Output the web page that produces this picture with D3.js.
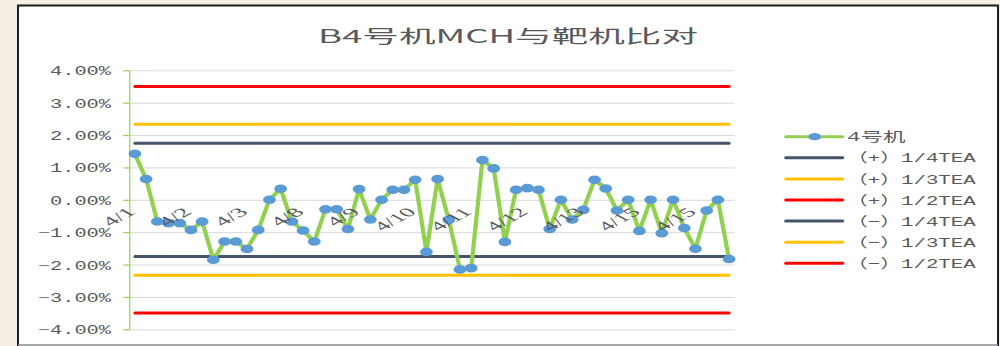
<!DOCTYPE html>
<html>
<head>
<meta charset="utf-8">
<script src="https://cdn.jsdelivr.net/npm/d3@7"></script>
<style>
  html, body { margin: 0; padding: 0; background: #f4eee4; }
  svg { display: block; }
</style>
</head>
<body>
<svg id="chart" width="1000" height="346"></svg>
<script>
// ---- data -------------------------------------------------------------
const titleText = "B4号机MCH与靶机比对";

// deviation of machine 4 against the reference machine, in percent
const values = [
  1.42, 0.64, -0.67, -0.72, -0.72, -0.93, -0.67, -1.85, -1.29, -1.29,
  -1.52, -0.93, 0.00, 0.34, -0.67, -0.95, -1.29, -0.29, -0.29, -0.90,
  0.33, -0.61, 0.00, 0.31, 0.31, 0.62, -1.61, 0.64, -0.62, -2.15,
  -2.11, 1.23, 0.97, -1.30, 0.31, 0.36, 0.31, -0.90, 0.00, -0.61,
  -0.31, 0.62, 0.35, -0.33, 0.00, -0.96, 0.00, -1.03, 0.00, -0.87,
  -1.51, -0.33, 0.00, -1.83
];
const seriesName = "4号机";

// category labels shown on the axis, one every `labelEvery` points
const tickLabels = ["4/1", "4/2", "4/3", "4/8", "4/9", "4/10", "4/11", "4/12", "4/13", "4/15", "4/15"];
const labelEvery = 5;

// TEA limit lines
const limitNames  = ["（+）1/4TEA", "（+）1/3TEA", "（+）1/2TEA", "（−）1/4TEA", "（−）1/3TEA", "（−）1/2TEA"];
const limitValues = [1.75, 2.33, 3.5, -1.75, -2.33, -3.5];
const limitColors = ["#44546a", "#ffc000", "#ff0000", "#44546a", "#ffc000", "#ff0000"];

const yTicks = [-4, -3, -2, -1, 0, 1, 2, 3, 4];

// ---- layout -----------------------------------------------------------
const plot = { left: 129.3, right: 734.7, top: 70.3, bottom: 329.3 };
const textGray = "#595959";
const stretch = 1.85;   // horizontal stretch applied to text

const svg = d3.select("#chart");

// frame
svg.append("rect")
  .attr("x", 18).attr("y", 5.5).attr("width", 980).attr("height", 342)
  .attr("fill", "#ffffff").attr("stroke", "#1c1c1c").attr("stroke-width", 2);
svg.append("line")
  .attr("x1", 18).attr("x2", 998).attr("y1", 345).attr("y2", 345)
  .attr("stroke", "#8a8a8a").attr("stroke-width", 1.5);

const x = d3.scaleBand()
  .domain(d3.range(values.length))
  .range([plot.left, plot.right]);
const cx = i => x(i) + x.bandwidth() / 2;

const y = d3.scaleLinear().domain([-4, 4]).range([plot.bottom, plot.top]);

// title
svg.append("text")
  .attr("x", 508).attr("y", 43)
  .attr("text-anchor", "middle")
  .attr("font-family", "'Noto Sans CJK SC', 'Noto Sans', sans-serif")
  .attr("font-size", 18)
  .attr("fill", textGray)
  .attr("textLength", 380)
  .attr("lengthAdjust", "spacingAndGlyphs")
  .text(titleText);

// horizontal gridlines
const grid = svg.append("g")
  .attr("transform", `translate(${plot.left},0)`)
  .call(d3.axisLeft(y).tickValues(yTicks).tickSize(-(plot.right - plot.left)).tickFormat(""));
grid.select(".domain").remove();
grid.selectAll(".tick line").attr("stroke", "#d9d9d9").attr("stroke-width", 1);

// value axis
const fmt = d3.format(".2%");
const yAxis = svg.append("g")
  .attr("transform", `translate(${plot.left},0)`)
  .call(d3.axisLeft(y).tickValues(yTicks).tickSize(6).tickSizeOuter(0)
        .tickFormat(d => fmt(d / 100)));
yAxis.select(".domain").attr("stroke", "#92d050").attr("stroke-width", 1.2);
yAxis.selectAll(".tick line").attr("stroke", "#92d050").attr("stroke-width", 1.2);
yAxis.selectAll(".tick text")
  .attr("x", 111 - plot.left)
  .attr("dy", "0.36em")
  .attr("text-anchor", "end")
  .attr("font-family", "'Liberation Mono', monospace")
  .attr("font-size", 12.5)
  .attr("fill", textGray)
  .each(function () {
    const t = d3.select(this);
    t.attr("textLength", t.text().length * 12.2).attr("lengthAdjust", "spacingAndGlyphs");
  });

// limit lines
const limitLine = d3.line().x((d, i) => cx(i)).y(d => y(d));
limitValues.forEach((v, k) => {
  svg.append("path")
    .datum(values.map(() => v))
    .attr("d", limitLine)
    .attr("fill", "none")
    .attr("stroke", limitColors[k])
    .attr("stroke-width", 3)
    .attr("stroke-linecap", "round");
});

// measured series
svg.append("path")
  .datum(values)
  .attr("d", d3.line().x((d, i) => cx(i)).y(d => y(d)))
  .attr("fill", "none")
  .attr("stroke", "#92d050")
  .attr("stroke-width", 4.2)
  .attr("stroke-linejoin", "round");

svg.append("g").selectAll("ellipse")
  .data(values)
  .join("ellipse")
  .attr("cx", (d, i) => cx(i))
  .attr("cy", d => y(d))
  .attr("rx", 6.4)
  .attr("ry", 4.3)
  .attr("fill", "#5b9bd5");

// category labels, hung from the zero line and drawn over the series
const catIdx = d3.range(0, values.length, labelEvery);
svg.append("g").selectAll("text")
  .data(catIdx)
  .join("text")
  .attr("transform", i => `translate(${cx(i) + 2},${y(0) + 13}) scale(${stretch},1) rotate(-45)`)
  .attr("text-anchor", "end")
  .attr("font-family", "'Liberation Serif', serif")
  .attr("font-size", 12.5)
  .attr("fill", textGray)
  .attr("textLength", (i, k) => tickLabels[k].length * 6.6)
  .attr("lengthAdjust", "spacingAndGlyphs")
  .text((i, k) => tickLabels[k]);

// legend
const legend = { x1: 785.7, x2: 842.7, textX: 847, top: 136.7, step: 21.1, cell: 11.7 };
const legendItems = [{ name: seriesName, color: "#92d050", marker: true }]
  .concat(limitNames.map((n, k) => ({ name: n, color: limitColors[k], marker: false })));
const cells = s => Array.from(s).reduce((a, ch) => a + (ch.charCodeAt(0) > 0x2e80 ? 2 : 1), 0);

const lg = svg.append("g").selectAll("g")
  .data(legendItems)
  .join("g")
  .attr("transform", (d, i) => `translate(0,${legend.top + i * legend.step})`);
lg.append("line")
  .attr("x1", legend.x1).attr("x2", legend.x2)
  .attr("stroke", d => d.color).attr("stroke-width", 3).attr("stroke-linecap", "round");
lg.filter(d => d.marker).append("ellipse")
  .attr("cx", (legend.x1 + legend.x2) / 2 + 0.5).attr("rx", 6.5).attr("ry", 3.6)
  .attr("fill", "#5b9bd5");
lg.append("text")
  .attr("x", legend.textX)
  .attr("dy", "0.36em")
  .attr("font-family", "'Liberation Mono', 'Noto Sans CJK SC', monospace")
  .attr("font-size", 13)
  .attr("fill", textGray)
  .attr("textLength", d => cells(d.name) * legend.cell)
  .attr("lengthAdjust", "spacingAndGlyphs")
  .text(d => d.name);
</script>
</body>
</html>
